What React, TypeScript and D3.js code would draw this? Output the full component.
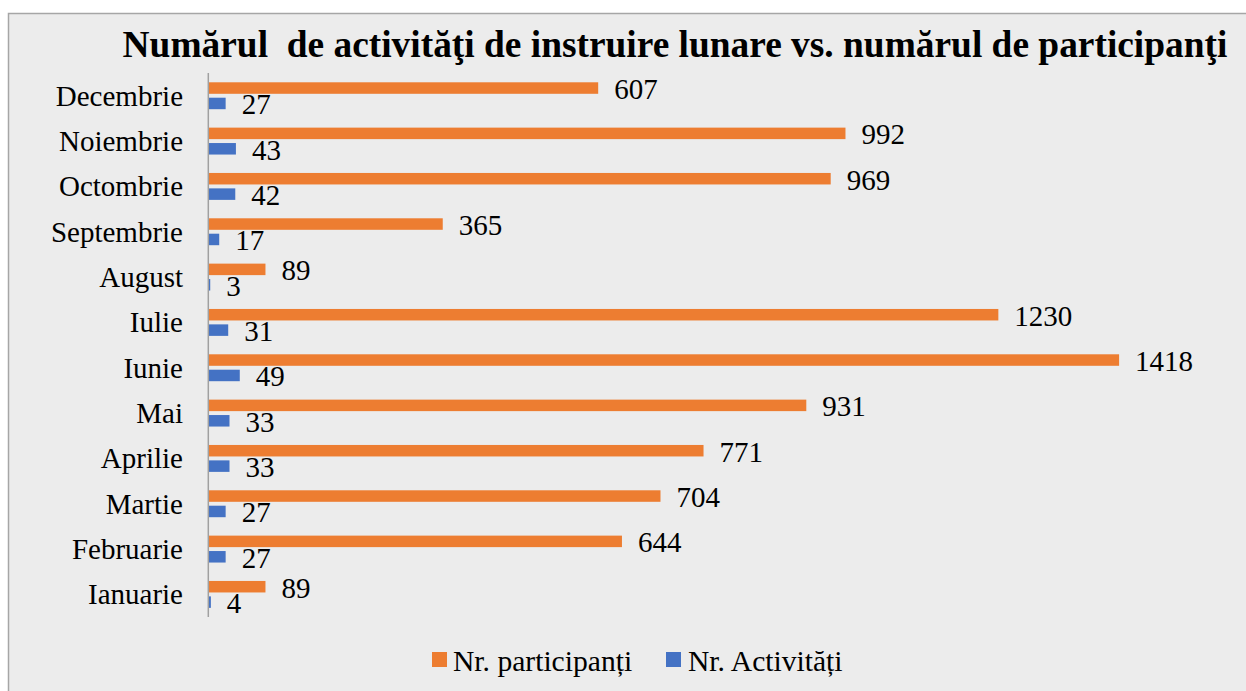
import React from "react";
import * as d3 from "d3";

const months = ["Ianuarie", "Februarie", "Martie", "Aprilie", "Mai", "Iunie", "Iulie", "August", "Septembrie", "Octombrie", "Noiembrie", "Decembrie"];
const participants = [89, 644, 704, 771, 931, 1418, 1230, 89, 365, 969, 992, 607];
const activities = [4, 27, 27, 33, 33, 49, 31, 3, 17, 42, 43, 27];
const seriesNames = ["Nr. participanți", "Nr. Activități"];
const title = "Numărul  de activităţi de instruire lunare vs. numărul de participanţi";

const W = 1246;
const H = 691;
const ORANGE = "#ed7d31";
const BLUE = "#4472c4";
const FONT = "'Liberation Serif', 'Times New Roman', serif";

export default function App() {
  const x = d3.scaleLinear().domain([0, 1600]).range([208.3, 1236]);
  const y = d3.scaleBand<string>().domain([...months].reverse()).range([73, 617]).padding(0);
  const bw = y.bandwidth();
  const barH = 11.5;
  const oOff = bw * 0.205;
  const bOff = bw * 0.545;

  return (
    <div style={{ position: "fixed", left: 0, top: 0, width: W, height: H, background: "#fff" }}>
      <svg width={W} height={H} style={{ display: "block" }}>
        <rect x={8.5} y={13.5} width={W + 10} height={H + 10} fill="#ececec" stroke="#a6a6a6" strokeWidth={1.5} />
        <text x={675} y={57} textAnchor="middle" fontFamily={FONT} fontWeight="bold" fontSize={37.4} fill="#000" style={{ whiteSpace: "pre" }}>
          {title}
        </text>
        {months.map((m, i) => {
          const y0 = y(m)!;
          const pv = participants[i];
          const av = activities[i];
          return (
            <g key={m}>
              <text x={183} y={y0 + bw / 2 + 10} textAnchor="end" fontFamily={FONT} fontSize={29} fill="#000">{m}</text>
              <rect x={x(0)} y={y0 + oOff} width={x(pv) - x(0)} height={barH} fill={ORANGE} />
              <rect x={x(0)} y={y0 + bOff} width={x(av) - x(0)} height={barH} fill={BLUE} />
              <text x={x(pv) + 16} y={y0 + oOff + barH / 2 + 11} fontFamily={FONT} fontSize={29} fill="#000">{pv}</text>
              <text x={x(av) + 16} y={y0 + bOff + barH / 2 + 11} fontFamily={FONT} fontSize={29} fill="#000">{av}</text>
            </g>
          );
        })}
        <line x1={x(0)} x2={x(0)} y1={73} y2={617} stroke="#a0a0a0" strokeWidth={1.5} />
        <rect x={432} y={652} width={15} height={15} fill={ORANGE} />
        <text x={453} y={671} fontFamily={FONT} fontSize={29.6} fill="#000">{seriesNames[0]}</text>
        <rect x={666} y={652} width={15} height={15} fill={BLUE} />
        <text x={688} y={671} fontFamily={FONT} fontSize={29.6} fill="#000">{seriesNames[1]}</text>
      </svg>
    </div>
  );
}
